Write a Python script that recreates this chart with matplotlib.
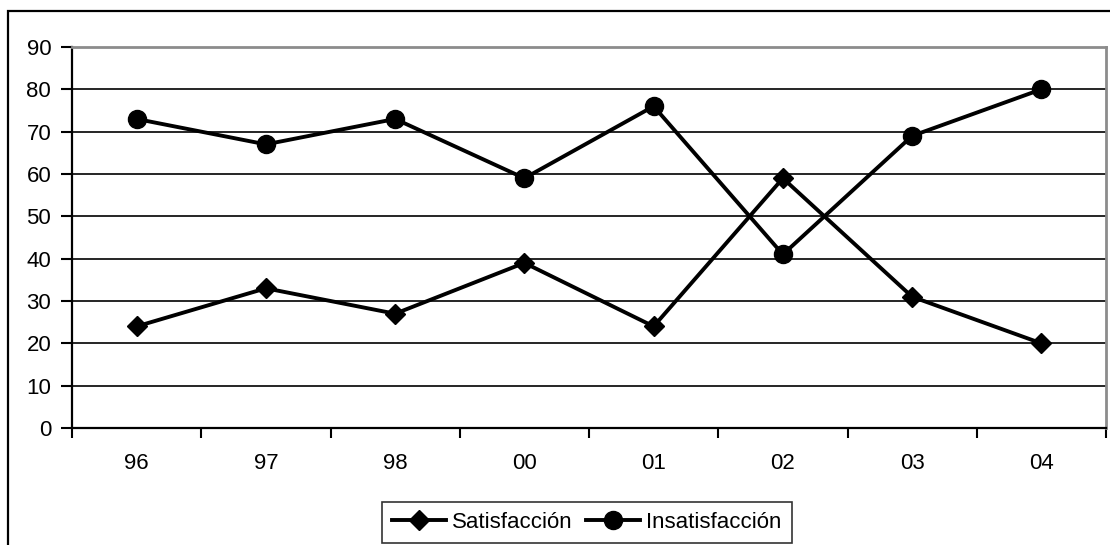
import numpy as np
import matplotlib.pyplot as plt
from matplotlib.patches import Rectangle

plt.rcParams["font.family"] = ["Liberation Sans", "DejaVu Sans"]

# encuesta anual de satisfacción (%)
anios = ["96", "97", "98", "00", "01", "02", "03", "04"]
satisfaccion = [24, 33, 27, 39, 24, 59, 31, 20]
insatisfaccion = [73, 67, 73, 59, 76, 41, 69, 80]

fig = plt.figure(figsize=(11.1, 5.45), dpi=100)
ax = fig.add_axes([72 / 1110, 1 - 428 / 545, 1034 / 1110, 381 / 545])

x = np.arange(len(anios))
ax.plot(x, satisfaccion, color="black", lw=2.8, marker="D", ms=10,
        label="Satisfacción", zorder=3, clip_on=False)
ax.plot(x, insatisfaccion, color="black", lw=2.8, marker="o", ms=13,
        label="Insatisfacción", zorder=3, clip_on=False)

ax.set_xlim(-0.5, len(anios) - 0.5)
ax.set_ylim(0, 90)
ax.set_yticks(range(0, 91, 10))
ax.set_xticks(x)
ax.set_xticklabels(anios)
ax.set_xticks(np.arange(-0.5, len(anios)), minor=True)
ax.grid(axis="y", color="black", lw=1.2)
ax.set_axisbelow(True)

ax.tick_params(axis="y", length=8, width=1.5, pad=7, labelsize=16)
ax.tick_params(axis="x", which="major", length=0, pad=18, labelsize=16)
ax.tick_params(axis="x", which="minor", length=7, width=1.5)

for lado in ["left", "bottom"]:
    ax.spines[lado].set_color("black")
    ax.spines[lado].set_linewidth(1.6)
for lado in ["top", "right"]:
    ax.spines[lado].set_color("#8c8c8c")
    ax.spines[lado].set_linewidth(2)

leg = fig.legend(loc="center", bbox_to_anchor=(587 / 1110, 1 - 522 / 545),
                 ncol=2, fontsize=16, frameon=True, fancybox=False,
                 handlelength=2.4, handletextpad=0.3, columnspacing=0.6,
                 borderpad=0.45, borderaxespad=0, edgecolor="black")
leg.get_frame().set_linewidth(1.2)

# marco exterior del gráfico
fig.patches.append(Rectangle((8 / 1110, -0.1), 1.2, 1.1 - 11 / 545,
                             transform=fig.transFigure, fill=False,
                             edgecolor="black", lw=1.6))

fig.savefig("out.png", dpi=100)
